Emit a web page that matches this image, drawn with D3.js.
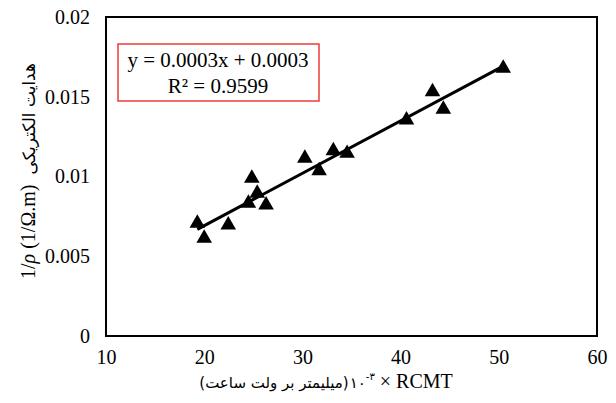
<!DOCTYPE html>
<html>
<head>
<meta charset="utf-8">
<script src="https://cdn.jsdelivr.net/npm/d3@7"></script>
<style>
  body { margin: 0; background: #fff; }
  text { font-family: "Liberation Serif", "Times New Roman", "DejaVu Serif", serif; fill: #000; }
</style>
</head>
<body>
<svg id="chart" width="616" height="403"></svg>
<script>
// data
const rcmt = [19.3, 20.0, 22.45, 24.5, 24.85, 25.4, 26.3, 30.25, 31.7, 33.15, 34.55, 40.6, 43.25, 44.35, 50.45];
const conductivity = [0.00707, 0.00613, 0.00696, 0.00832, 0.00989, 0.00895, 0.00821, 0.01114, 0.01036, 0.01162, 0.01145, 0.01354, 0.01532, 0.01421, 0.01678];
const xTicks = [10, 20, 30, 40, 50, 60];
const yTicks = [0, 0.005, 0.01, 0.015, 0.02];
const equationLines = ["y = 0.0003x + 0.0003", "R² = 0.9599"];

const SERIF = '"Liberation Serif", "Times New Roman", "DejaVu Serif", serif';
const ARABIC = '"DejaVu Sans", sans-serif';

const svg = d3.select("#chart"),
    margin = { top: 17, right: 19, bottom: 67, left: 106 },
    width = +svg.attr("width") - margin.left - margin.right,
    height = +svg.attr("height") - margin.top - margin.bottom,
    g = svg.append("g").attr("transform", `translate(${margin.left},${margin.top})`);

const x = d3.scaleLinear().domain([10, 60]).range([0, width]);
const y = d3.scaleLinear().domain([0, 0.02]).range([height, 0]);

// axes: labels only, no tick marks
const xAxis = g.append("g")
    .attr("transform", `translate(0,${height})`)
    .call(d3.axisBottom(x).tickValues(xTicks).tickSize(0).tickPadding(14).tickFormat(d3.format("d")));
const yAxis = g.append("g")
    .call(d3.axisLeft(y).tickValues(yTicks).tickSize(0).tickPadding(16).tickFormat(d => d === 0 ? "0" : String(+d.toFixed(3))));
[xAxis, yAxis].forEach(a => {
    a.attr("font-family", null).attr("font-size", null);
    a.select(".domain").remove();
    a.selectAll("text").style("font-size", "20px").style("font-family", SERIF);
});

// plot frame
g.append("rect")
    .attr("width", width)
    .attr("height", height)
    .attr("fill", "none")
    .attr("stroke", "#000")
    .attr("stroke-width", 2);

// linear trend line (least squares)
const mx = d3.mean(rcmt), my = d3.mean(conductivity);
const slope = d3.sum(rcmt, (v, i) => (v - mx) * (conductivity[i] - my)) / d3.sum(rcmt, v => (v - mx) ** 2);
const intercept = my - slope * mx;
const [x0, x1] = d3.extent(rcmt);
g.append("line")
    .attr("x1", x(x0)).attr("y1", y(slope * x0 + intercept))
    .attr("x2", x(x1)).attr("y2", y(slope * x1 + intercept))
    .attr("stroke", "#000")
    .attr("stroke-width", 3);

// points
g.selectAll(".pt")
    .data(rcmt.map((v, i) => [v, conductivity[i]]))
    .enter().append("path")
    .attr("class", "pt")
    .attr("d", d3.symbol(d3.symbolTriangle, 105))
    .attr("transform", d => `translate(${x(d[0])},${y(d[1])})`)
    .attr("fill", "#000");

// equation box
const eq = svg.append("g");
eq.append("rect")
    .attr("x", 118).attr("y", 44)
    .attr("width", 201).attr("height", 57)
    .attr("fill", "#fff")
    .attr("stroke", "#ee3b3b")
    .attr("stroke-width", 1.5);
eq.selectAll("text")
    .data(equationLines)
    .enter().append("text")
    .attr("x", 218)
    .attr("y", (d, i) => 67 + i * 26)
    .attr("text-anchor", "middle")
    .style("font-family", SERIF)
    .style("font-size", "21px")
    .text(d => d);

// lay out text pieces one after another, left to right
function runText(parent, pieces) {
    let cx = 0;
    pieces.forEach(p => {
        const t = parent.append("text")
            .attr("x", cx).attr("y", p.dy || 0)
            .attr("direction", "ltr")
            .style("font-size", p.size + "px")
            .style("font-family", p.font)
            .style("font-style", p.italic ? "italic" : "normal")
            .text(p.t);
        cx += t.node().getComputedTextLength() + (p.gap || 0);
    });
    return cx;
}

// x axis title
const xt = svg.append("g");
const xw = runText(xt, [
    { t: "(میلیمتر بر ولت ساعت)", size: 15, font: ARABIC, gap: 1 },
    { t: "۱۰", size: 15, font: ARABIC, gap: 0 },
    { t: "-۳", size: 10, dy: -8, font: ARABIC, gap: 5 },
    { t: "×\u00A0RCMT", size: 20, font: SERIF }
]);
xt.attr("transform", `translate(${326 - xw / 2},388)`);

// y axis title, rotated
const yt = svg.append("g");
const yw = runText(yt, [
    { t: "1/", size: 20, font: SERIF },
    { t: "ρ", size: 20, font: SERIF, italic: true, gap: 5 },
    { t: "(1/Ω.m)", size: 20, font: SERIF, gap: 10 },
    { t: "هدایت الکتریکی", size: 17, font: ARABIC }
]);
yt.attr("transform", `translate(35,${171 + yw / 2}) rotate(-90)`);
</script>
</body>
</html>
